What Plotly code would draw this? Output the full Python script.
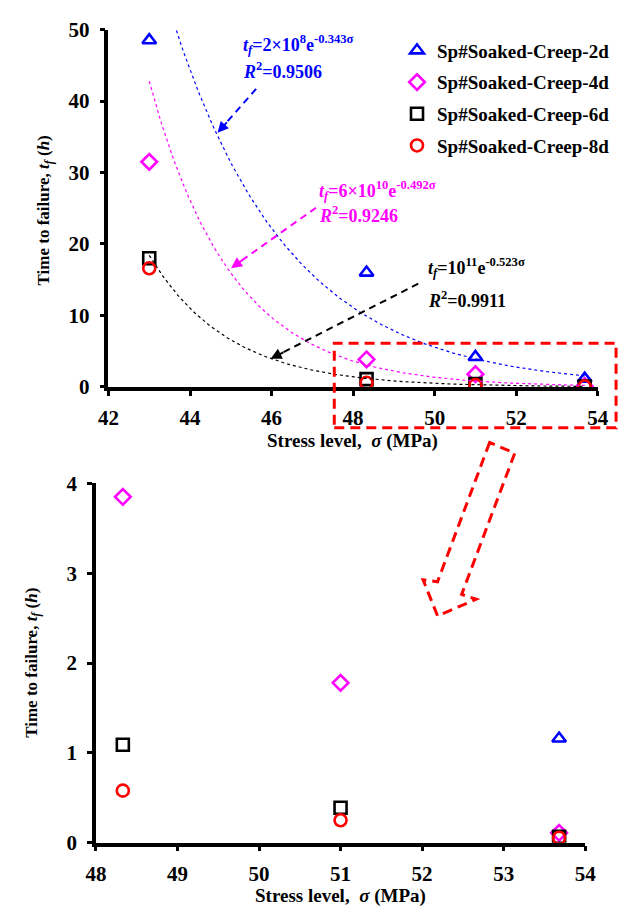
import numpy as np
import plotly.graph_objects as go

# ---- data -------------------------------------------------------------
stress = [43.0, 48.33, 51.0, 53.68]          # stress level, MPa
t_2d = [48.5, 16.0, 4.2, 1.16]               # time to failure, h
t_4d = [31.5, 3.85, 1.78, 0.11]
t_6d = [18.0, 1.09, 0.39, 0.065]
t_8d = [16.6, 0.58, 0.25, 0.055]

series_names = ["Sp#Soaked-Creep-2d", "Sp#Soaked-Creep-4d",
                "Sp#Soaked-Creep-6d", "Sp#Soaked-Creep-8d"]
series_values = [t_2d, t_4d, t_6d, t_8d]
series_colors = ["#0000FF", "#FF00FF", "#000000", "#FF0000"]
series_symbols = ["triangle-up-open", "diamond-open", "square-open", "circle-open"]
fitted = [True, True, True, False]           # exponential trend lines

x_ticks_top = [42, 44, 46, 48, 50, 52, 54]
y_ticks_top = [0, 10, 20, 30, 40, 50]
x_ticks_bot = [48, 49, 50, 51, 52, 53, 54]
y_ticks_bot = [0, 1, 2, 3, 4]

W, H = 629, 920
FONT = "Liberation Serif, Times New Roman, serif"


def px(x):
    return x / W


def py(y):
    return 1 - y / H


fig = go.Figure()

# ---- markers (top: full range, bottom: zoomed window) ------------------
for name, vals, col, sym in zip(series_names, series_values, series_colors, series_symbols):
    fig.add_trace(go.Scatter(
        x=stress, y=vals, mode="markers", name=name,
        legendgroup=name,
        marker=dict(symbol=sym, size=12, color=col, line=dict(color=col, width=2.6)),
        xaxis="x", yaxis="y"))
    fig.add_trace(go.Scatter(
        x=stress, y=vals, mode="markers", name=name, showlegend=False,
        marker=dict(symbol=sym, size=12, color=col, line=dict(color=col, width=2.6)),
        xaxis="x2", yaxis="y2"))

# ---- exponential trend lines t = a*exp(b*sigma), least squares on ln t --
for vals, col, fit in zip(series_values, series_colors, fitted):
    if not fit:
        continue
    b, ln_a = np.polyfit(np.array(stress), np.log(np.array(vals)), 1)
    xs = np.linspace(min(stress), max(stress), 200)
    fig.add_trace(go.Scatter(
        x=xs, y=np.exp(ln_a) * np.exp(b * xs), mode="lines", showlegend=False,
        line=dict(color=col, width=1.2, dash="3px,3px"),
        hoverinfo="skip", xaxis="x", yaxis="y"))

axis_common = dict(
    showline=True, linewidth=3.5, linecolor="black",
    ticks="outside", ticklen=5, tickwidth=3, tickcolor="black",
    showgrid=False, zeroline=False,
    tickfont=dict(family=FONT, size=21, color="black", weight="bold"),
)

fig.update_layout(
    width=W, height=H,
    margin=dict(l=0, r=0, t=0, b=0),
    paper_bgcolor="white", plot_bgcolor="white",
    font=dict(family=FONT, color="black"),
    xaxis=dict(axis_common, range=[42, 54], tickvals=x_ticks_top,
               domain=[px(101), px(608)], anchor="y", ticklabelstandoff=4),
    yaxis=dict(axis_common, range=[0, 50], tickvals=y_ticks_top,
               domain=[py(385), py(18)], anchor="x", ticklabelstandoff=6),
    xaxis2=dict(axis_common, range=[48, 54], tickvals=x_ticks_bot,
                domain=[px(88), px(595)], anchor="y2", ticklabelstandoff=4),
    yaxis2=dict(axis_common, range=[0, 4], tickvals=y_ticks_bot,
                domain=[py(853), py(484)], anchor="x2", ticklabelstandoff=6),
    legend=dict(x=px(400), y=py(20), xanchor="left", yanchor="top",
                bgcolor="rgba(0,0,0,0)", traceorder="grouped", tracegroupgap=4,
                font=dict(family=FONT, size=19, color="black", weight="bold")),
    showlegend=True,
)

annotations = []


def label(x, y, text, color="black", size=19, angle=0, xanchor="center"):
    annotations.append(dict(
        x=px(x), y=py(y), xref="paper", yref="paper", text=text,
        showarrow=False, textangle=angle, xanchor=xanchor, yanchor="middle",
        font=dict(family=FONT, size=size, color=color, weight="bold")))


# axis titles
x_title = "Stress level,\u00a0 <i>σ</i> (MPa)"
y_title = "Time to failure, <i>t</i><sub><i>f</i></sub> (<i>h</i>)"
label(354, 440, x_title)
label(341, 908, x_title)
label(35, 204, y_title, size=17, angle=-90)
label(22, 668, y_title, size=17, angle=-90)

# fitted equations
label(238, 33, "<i>t</i><sub><i>f</i></sub>=2×10<sup>8</sup>e<sup>-0.343σ</sup>",
      color="#0000FF", size=18, xanchor="left")
label(238, 60, "<i>R</i><sup>2</sup>=0.9506", color="#0000FF", size=18, xanchor="left")
label(317, 183, "<i>t</i><sub><i>f</i></sub>=6×10<sup>10</sup>e<sup>-0.492σ</sup>",
      color="#FF00FF", size=18, xanchor="left")
label(317, 208, "<i>R</i><sup>2</sup>=0.9246", color="#FF00FF", size=18, xanchor="left")
label(430, 262, "<i>t</i><sub><i>f</i></sub>=10<sup>11</sup>e<sup>-0.523σ</sup>",
      color="black", size=18, xanchor="left")
label(430, 295, "<i>R</i><sup>2</sup>=0.9911", color="black", size=18, xanchor="left")

shapes = []

# dashed pointer arrows from each equation to its curve
pointers = [((254, 79), (214, 124), "#0000FF"),
            ((316, 201), (228, 263), "#FF00FF"),
            ((422, 279), (269, 356), "black")]
for (tx, ty), (hx, hy), col in pointers:
    dx, dy = tx - hx, ty - hy
    n = np.hypot(dx, dy)
    shapes.append(dict(type="line", xref="paper", yref="paper",
                       x0=px(tx), y0=py(ty), x1=px(hx + dx / n * 8), y1=py(hy + dy / n * 8),
                       line=dict(color=col, width=2, dash="7px,5px")))
    annotations.append(dict(x=px(hx), y=py(hy), xref="paper", yref="paper", text="",
                            showarrow=True, ax=dx / n * 16, ay=dy / n * 16,
                            arrowhead=2, arrowsize=1.1, arrowwidth=2, arrowcolor=col))

# dashed frame around the zoomed region
shapes.append(dict(type="rect", xref="paper", yref="paper",
                   x0=px(335), x1=px(627), y0=py(427), y1=py(340),
                   line=dict(color="#FF0000", width=3, dash="10px,6px")))

# hollow dashed arrow leading to the enlarged view
outline = [(496, 442), (442, 585), (427, 583), (442, 620),
           (482, 603), (467, 598), (522, 453)]
path = "M " + " L ".join(f"{px(x):.5f},{py(y):.5f}" for x, y in outline) + " Z"
shapes.append(dict(type="path", xref="paper", yref="paper", path=path,
                   line=dict(color="#FF0000", width=3, dash="10px,6px")))

fig.update_layout(annotations=annotations, shapes=shapes)

fig.write_html("out.html")
